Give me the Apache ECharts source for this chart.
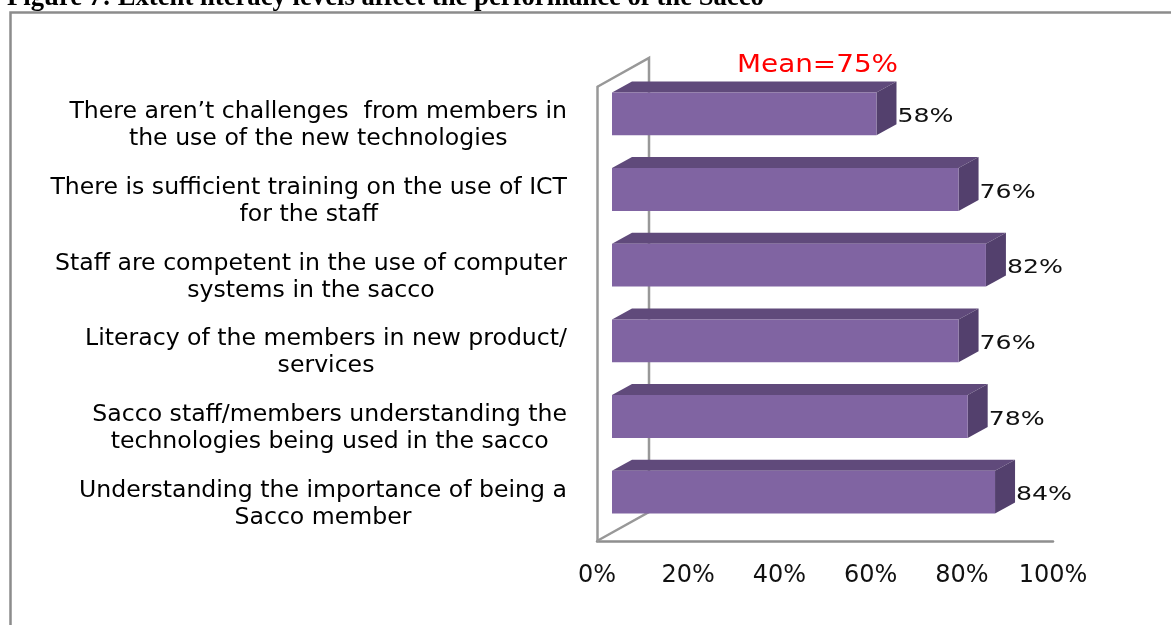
<!DOCTYPE html>
<html>
<head>
<meta charset="utf-8">
<style>
  html, body { margin: 0; padding: 0; background: #fff; }
  #chart { width: 1171px; height: 625px; }
</style>
<script src="https://cdn.jsdelivr.net/npm/echarts@6/dist/echarts.min.js"></script>
</head>
<body>
<div id="chart"></div>
<script>
// top to bottom, as in the figure
var categories = [
  "There aren\u2019t challenges  from members in\nthe use of the new technologies",
  "There is sufficient training on the use of ICT\nfor the staff",
  "Staff are competent in the use of computer\nsystems in the sacco",
  "Literacy of the members in new product/\nservices",
  "Sacco staff/members understanding the\ntechnologies being used in the sacco",
  "Understanding the importance of being a\nSacco member"
];
var values = [58, 76, 82, 76, 78, 84];
var titleText = "Figure 7: Extent literacy levels affect the performance of the Sacco";
var meanText = "Mean=75%";

var myChart = echarts.init(document.getElementById("chart"));

// fake 3d bar, same look as the office chart
function renderBar(params, api) {
  var end = api.coord([api.value(0), api.value(1)]);
  var start = api.coord([0, api.value(1)]);
  var h = api.size([0, 1])[1] * 0.565;
  var x0 = start[0] + 15;
  var x1 = end[0] + 15;
  var y0 = start[1] - 11 - h / 2;
  var y1 = y0 + h;
  var dx = 20;
  var dy = 11;
  return {
    type: "group",
    children: [
      {
        type: "polygon",
        shape: { points: [[x0, y0], [x0 + dx, y0 - dy], [x1 + dx, y0 - dy], [x1, y0]] },
        style: { fill: "#604A7B" }
      },
      {
        type: "polygon",
        shape: { points: [[x1, y0], [x1 + dx, y0 - dy], [x1 + dx, y1 - dy], [x1, y1]] },
        style: { fill: "#53406D" }
      },
      {
        type: "rect",
        shape: { x: x0, y: y0, width: x1 - x0, height: h },
        style: { fill: "#8064A2" }
      },
      {
        type: "text",
        x: x1 + dx + 1,
        y: start[1] - 8,
        scaleX: 1.26,
        style: {
          text: api.value(0) + "%",
          font: '20px "DejaVu Sans"',
          fill: "#111",
          textAlign: "left",
          textVerticalAlign: "middle"
        }
      }
    ]
  };
}

function renderWalls(params) {
  var r = params.coordSys;
  var bx = r.x + 52;
  var floorY = r.y + r.height;
  return {
    type: "polyline",
    shape: { points: [[r.x, floorY], [bx, floorY - 29], [bx, r.y - 29], [r.x, r.y]] },
    style: { fill: null, stroke: "#989898", lineWidth: 2.5 }
  };
}

var option = {
  animation: false,
  title: {
    text: titleText,
    left: 7,
    top: -15,
    padding: 0,
    textStyle: { fontFamily: "Liberation Serif", fontSize: 26.7, fontWeight: "bold", color: "#000" }
  },
  graphic: [
    {
      type: "polyline",
      shape: { points: [[10.5, 625], [10.5, 12.5], [1171, 12.5]] },
      style: { fill: null, stroke: "#8c8c8c", lineWidth: 2.5 }
    },
    {
      type: "text",
      x: 737,
      y: 66,
      scaleX: 1.16,
      style: {
        text: meanText,
        font: '24px "DejaVu Sans"',
        fill: "#ff0000",
        textAlign: "left",
        textVerticalAlign: "middle"
      }
    }
  ],
  grid: { left: 597, top: 87, width: 456, height: 454 },
  xAxis: {
    type: "value",
    min: 0,
    max: 100,
    interval: 20,
    splitLine: { show: false },
    axisTick: { show: false },
    axisLine: { show: true, lineStyle: { color: "#8f8f8f", width: 2.5 } },
    axisLabel: {
      formatter: "{value}%",
      margin: 23,
      fontFamily: "DejaVu Sans",
      fontSize: 24,
      color: "#111"
    }
  },
  yAxis: {
    type: "category",
    inverse: true,
    data: categories,
    axisTick: { show: false },
    axisLine: { show: true, lineStyle: { color: "#989898", width: 2.5 } },
    axisLabel: {
      margin: 30,
      align: "right",
      padding: [2, 0, 0, 0],
      formatter: function (value) {
        return value.split("\n").map(function (line) {
          return "{c|" + line + "}";
        }).join("\n");
      },
      rich: {
        c: {
          align: "center",
          fontFamily: "DejaVu Sans",
          fontSize: 23.6,
          lineHeight: 27,
          color: "#000"
        }
      }
    }
  },
  series: [
    {
      type: "custom",
      renderItem: renderWalls,
      data: [[0, 0]],
      silent: true,
      z: 1
    },
    {
      type: "custom",
      renderItem: renderBar,
      encode: { x: 0, y: 1 },
      data: values.map(function (v, i) {
        return [v, i];
      }),
      z: 2
    }
  ]
};

option && myChart.setOption(option);
</script>
</body>
</html>
